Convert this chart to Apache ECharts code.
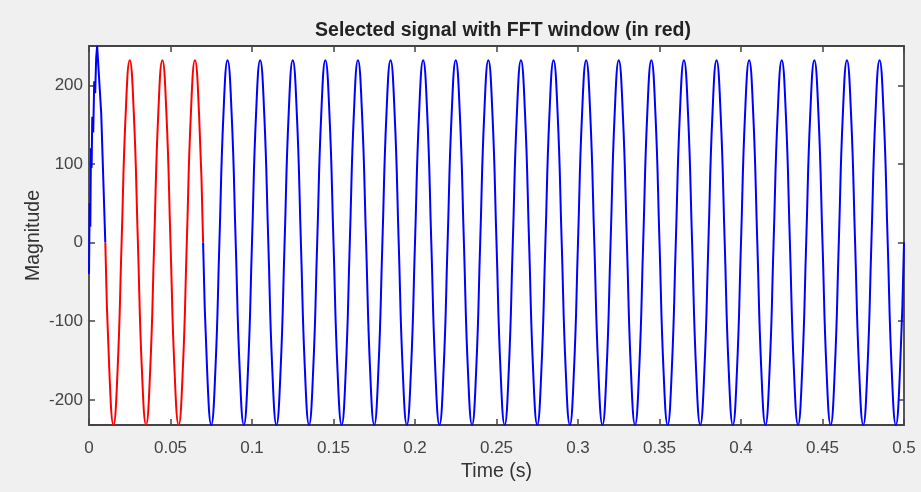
<!DOCTYPE html>
<html>
<head>
<meta charset="utf-8">
<script src="https://cdn.jsdelivr.net/npm/echarts@6/dist/echarts.min.js"></script>
<style>
html,body{margin:0;padding:0;background:#f0f0f0;}
#chart{width:921px;height:492px;}
</style>
</head>
<body>
<div id="chart"></div>
<script>
// ---- data ----
const titleText = 'Selected signal with FFT window (in red)';
const xName = 'Time (s)';
const yName = 'Magnitude';
const xTicks = [0, 0.05, 0.1, 0.15, 0.2, 0.25, 0.3, 0.35, 0.4, 0.45, 0.5];
const yTicks = [-200, -100, 0, 100, 200];
// start-up transient (time, value)
const transientTime  = [0, 0.0004, 0.0008, 0.0012, 0.0016, 0.002, 0.0026, 0.0032, 0.0038, 0.0044, 0.005, 0.0075, 0.01];
const transientValue = [-40, 50, 20, 120, 95, 160, 140, 205, 190, 235, 250, 164, 0];
// steady signal sampled every 0.0025 s from 0.01 s to 0.5 s
const signalStart = 0.01;
const signalStep = 0.0025;
const signalValue = [
0,-164,-232,-164,0,164,232,164, 0,-164,-232,-164,0,164,232,164,
0,-164,-232,-164,0,164,232,164, 0,-164,-232,-164,0,164,232,164,
0,-164,-232,-164,0,164,232,164, 0,-164,-232,-164,0,164,232,164,
0,-164,-232,-164,0,164,232,164, 0,-164,-232,-164,0,164,232,164,
0,-164,-232,-164,0,164,232,164, 0,-164,-232,-164,0,164,232,164,
0,-164,-232,-164,0,164,232,164, 0,-164,-232,-164,0,164,232,164,
0,-164,-232,-164,0,164,232,164, 0,-164,-232,-164,0,164,232,164,
0,-164,-232,-164,0,164,232,164, 0,-164,-232,-164,0,164,232,164,
0,-164,-232,-164,0,164,232,164, 0,-164,-232,-164,0,164,232,164,
0,-164,-232,-164,0,164,232,164, 0,-164,-232,-164,0,164,232,164,
0,-164,-232,-164,0,164,232,164, 0,-164,-232,-164,0,164,232,164,
0,-164,-232,-164,0,164,232,164, 0,-164,-232,-164,0,164,232,164,
0,-164,-232,-164,0
];
// FFT window (red)
const windowStart = 0.01;
const windowEnd = 0.07;
const xMin = 0, xMax = 0.5, yMin = -232, yMax = 250;

// ---- build series ----
const transientData = transientTime.map((t, i) => [t, transientValue[i]]);
const sig = signalValue.map((v, i) => [+(signalStart + i * signalStep).toFixed(5), v]);
const redData = sig.filter(p => p[0] >= windowStart - 1e-9 && p[0] <= windowEnd + 1e-9);
const blueAfter = sig.filter(p => p[0] >= windowEnd - 1e-9);

function hasFont(name) {
  const c = document.createElement('canvas').getContext('2d');
  const s = 'mmmmmmmmmmlli0.25WQ';
  c.font = '40px monospace';
  const a = c.measureText(s).width;
  c.font = "40px '" + name + "', monospace";
  const b = c.measureText(s).width;
  return Math.abs(a - b) > 0.5;
}
const narrow = hasFont('Liberation Sans Narrow');
const FONT = narrow ? "'Liberation Sans Narrow', 'Liberation Sans', Arial, sans-serif"
                    : "'Liberation Sans', Arial, sans-serif";
const S = narrow ? { tick: 20, name: 23, title: 23, tickM: 14 } : { tick: 17, name: 19.5, title: 19.5, tickM: 15 };

const tickStyle = { color: '#444', width: 1.5 };
const axisLine = { show: true, onZero: false, lineStyle: { color: '#444', width: 1.8 } };

const chart = echarts.init(document.getElementById('chart'), null, { renderer: 'canvas' });
chart.setOption({
  backgroundColor: '#f0f0f0',
  animation: false,
  title: {
    text: titleText, left: 498, top: 16, textAlign: 'center',
    textStyle: { fontFamily: FONT, fontSize: S.title, fontWeight: 'bold', color: '#222' }
  },
  grid: { left: 89, right: 17, top: 46, bottom: 67, show: true, backgroundColor: '#ffffff', borderWidth: 0 },
  xAxis: [{
    type: 'value', min: xMin, max: xMax, position: 'bottom',
    name: xName, nameLocation: 'middle', nameGap: 37, nameMoveOverlap: false,
    nameTextStyle: { fontFamily: FONT, fontSize: S.name, color: '#333' },
    axisLine: axisLine,
    axisTick: { inside: true, length: 6, customValues: xTicks, lineStyle: tickStyle },
    axisLabel: { customValues: xTicks, margin: S.tickM, fontFamily: FONT, fontSize: S.tick, color: '#444' },
    splitLine: { show: false }
  }, {
    type: 'value', min: xMin, max: xMax, position: 'top',
    axisLine: axisLine,
    axisTick: { inside: true, length: 6, customValues: xTicks, lineStyle: tickStyle },
    axisLabel: { show: false }, splitLine: { show: false }
  }],
  yAxis: [{
    type: 'value', min: yMin, max: yMax, position: 'left',
    name: yName, nameLocation: 'middle', nameGap: 45, nameRotate: 90, nameMoveOverlap: false,
    nameTextStyle: { fontFamily: FONT, fontSize: S.name, color: '#333' },
    axisLine: axisLine,
    axisTick: { inside: true, length: 6, customValues: yTicks, lineStyle: tickStyle },
    axisLabel: { customValues: yTicks, margin: 6, fontFamily: FONT, fontSize: S.tick, color: '#444' },
    splitLine: { show: false }
  }, {
    type: 'value', min: yMin, max: yMax, position: 'right',
    axisLine: axisLine,
    axisTick: { inside: true, length: 6, customValues: yTicks, lineStyle: tickStyle },
    axisLabel: { show: false }, splitLine: { show: false }
  }],
  series: [
    { type: 'line', data: transientData, showSymbol: false, smooth: false,
      lineStyle: { color: '#0000ff', width: 2 }, z: 3 },
    { type: 'line', data: redData, showSymbol: false, smooth: true,
      lineStyle: { color: '#ff0000', width: 2 }, z: 3 },
    { type: 'line', data: blueAfter, showSymbol: false, smooth: true,
      lineStyle: { color: '#0000ff', width: 2 }, z: 3 }
  ]
});
</script>
</body>
</html>
